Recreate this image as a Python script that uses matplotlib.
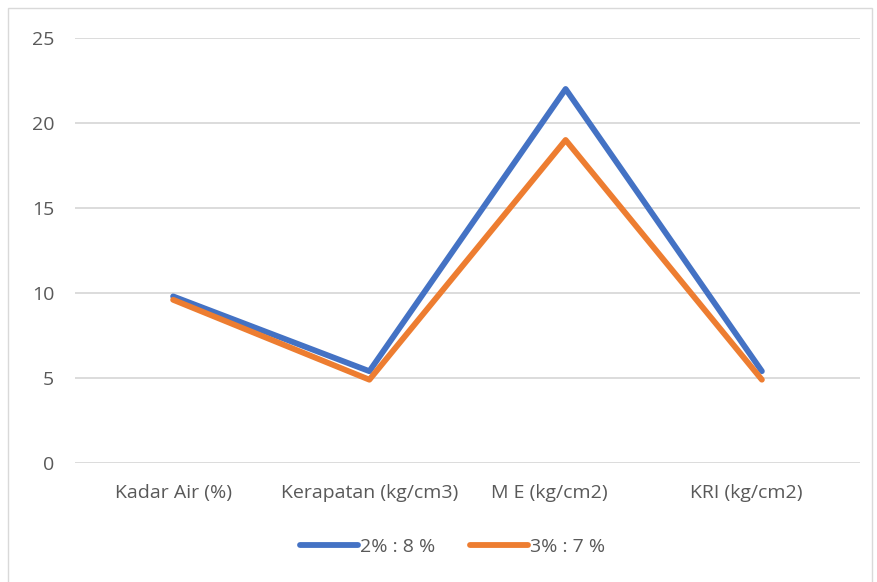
import matplotlib
matplotlib.use("Agg")
import matplotlib.pyplot as plt
import matplotlib.transforms as mtransforms
from matplotlib.patches import Rectangle

categories = ["Kadar Air (%)", "Kerapatan (kg/cm3)", "M E (kg/cm2)", "KRI (kg/cm2)"]
series_a = [9.8, 5.4, 22.0, 5.4]
series_b = [9.6, 4.9, 19.0, 4.9]
labels = ["2% : 8 %", "3% : 7 %"]
yticks = [0, 5, 10, 15, 20, 25]

BLUE = "#4472C4"; ORANGE = "#ED7D31"; GRID = "#D9D9D9"; TXT = "#595959"
plt.rcParams["font.family"] = ["Open Sans", "DejaVu Sans"]

fig = plt.figure(figsize=(8.77, 5.82), dpi=100)
ax = fig.add_axes([75 / 877, 1 - 463 / 582, 785 / 877, 425 / 582])
fig.patches.append(Rectangle((8 / 877, -0.01), 864 / 877, 1 - 8 / 582 + 0.01,
                             transform=fig.transFigure, fill=False,
                             edgecolor="#D9D9D9", lw=1.0))

x = range(len(categories))
ax.plot(x, series_a, color=BLUE, lw=4.2, solid_joinstyle="round",
        solid_capstyle="round", label=labels[0], zorder=3)
ax.plot(x, series_b, color=ORANGE, lw=4.2, solid_joinstyle="round",
        solid_capstyle="round", label=labels[1], zorder=3)

ax.set_xlim(-0.5, len(categories) - 0.5)
ax.set_ylim(0, 25)
ax.set_yticks(yticks)
ax.set_xticks(list(x))
ax.set_xticklabels(categories)
ax.yaxis.grid(True, color=GRID, lw=1.3)
ax.set_axisbelow(True)
for s in ax.spines.values():
    s.set_visible(False)
ax.tick_params(length=0, labelsize=14, colors=TXT)
ax.tick_params(axis="y", pad=15)
ax.tick_params(axis="x", pad=15)

# last two category labels sit a little left of their points in the original
shift = mtransforms.ScaledTranslation(-16 / 100, 0, fig.dpi_scale_trans)
for lab in ax.get_xticklabels()[2:]:
    lab.set_transform(lab.get_transform() + shift)

ax.legend(loc="upper center", bbox_to_anchor=(0.481, -0.135), ncol=2, frameon=False,
          fontsize=14, labelcolor=TXT, handlelength=3.0, handletextpad=0.1,
          columnspacing=1.8)

fig.savefig("out.png", dpi=100)
